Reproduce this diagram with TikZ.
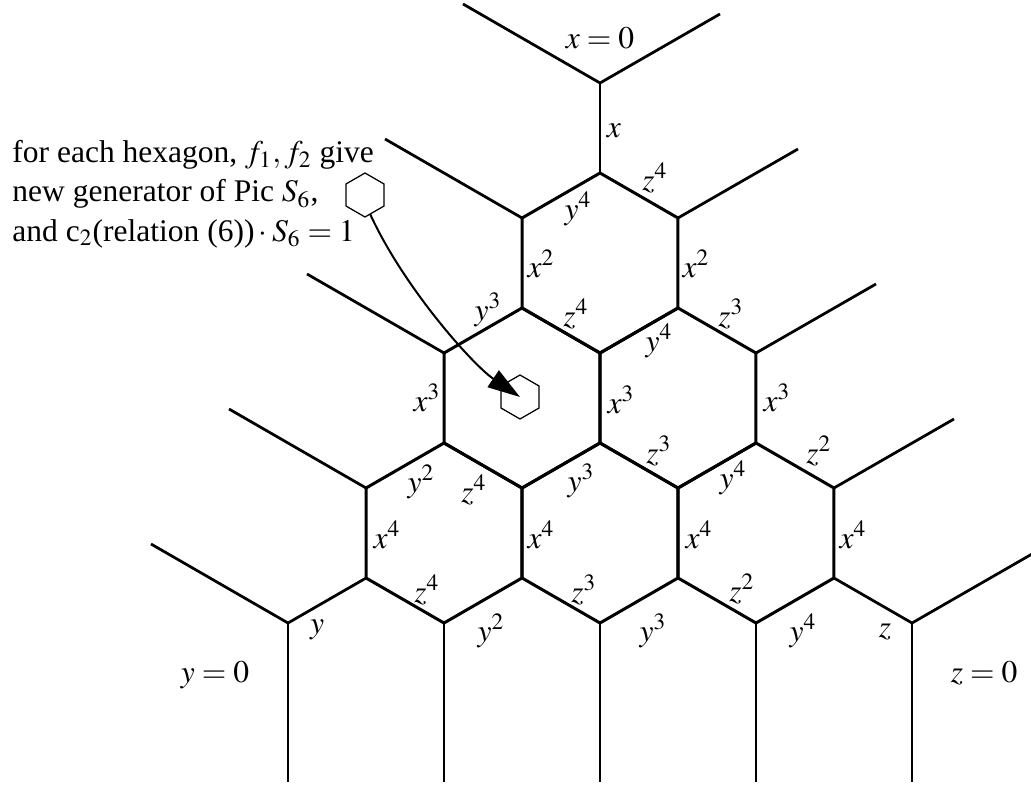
\documentclass[tikz,border=0pt]{standalone}
\usepackage{mathptmx}
\usepackage{fontspec}
\setmainfont{Liberation Serif}
\usetikzlibrary{shapes.geometric,arrows.meta}

\tikzset{
  cell/.style={regular polygon, regular polygon sides=6, shape border rotate=30,
    minimum size=72pt, inner sep=0pt, outer sep=0pt, draw, line width=1.2pt},
  smallhex/.style={regular polygon, regular polygon sides=6, shape border rotate=30,
    minimum size=17.6pt, inner sep=0pt, outer sep=0pt, draw, line width=0.5pt},
  leg/.style={line width=1.1pt},
  pointer/.style={line width=0.8pt, -{Triangle[length=13pt,width=8pt]}},
  lbl/.style={inner sep=0pt}
}

\begin{document}
\begin{tikzpicture}[x=0.4pt, y=-0.4pt, font=\fontsize{12.6}{15.6}\selectfont]
      \useasboundingbox (0,0) rectangle (1031,785);

      % the six hexagons
      \node[cell] (H1) at (600,263) {};
      \node[cell] (H2) at (522,398) {};
      \node[cell] (H3) at (678,398) {};
      \node[cell] (H4) at (444,533) {};
      \node[cell] (H5) at (600,533) {};
      \node[cell] (H6) at (756,533) {};

      % junctions and free ends
      \coordinate (xj) at (600,83);
      \coordinate (yj) at (288,623);
      \coordinate (zj) at (912,623);
      \coordinate (xl) at (463,4);
      \coordinate (xr) at (720,14);
      \coordinate (l1) at (385,139);
      \coordinate (l2) at (307,274);
      \coordinate (l3) at (229,409);
      \coordinate (l4) at (151,544);
      \coordinate (r1) at (798,149);
      \coordinate (r2) at (876,284);
      \coordinate (r3) at (954,419);
      \coordinate (r4) at (1032,554);
      \coordinate (d1) at (288,782);
      \coordinate (d2) at (444,782);
      \coordinate (d3) at (600,782);
      \coordinate (d4) at (756,782);
      \coordinate (d5) at (912,782);

      \draw[leg] (xl) -- (xj) -- (xr);
      \draw[leg] (xj) -- (H1.90);
      \draw[leg] (H1.150) -- (l1);
      \draw[leg] (H2.150) -- (l2);
      \draw[leg] (H4.150) -- (l3);
      \draw[leg] (H1.30) -- (r1);
      \draw[leg] (H3.30) -- (r2);
      \draw[leg] (H6.30) -- (r3);
      \draw[leg] (l4) -- (yj) -- (H4.-150);
      \draw[leg] (r4) -- (zj) -- (H6.-30);
      \draw[leg] (yj) -- (d1);
      \draw[leg] (H4.-90) -- (d2);
      \draw[leg] (H5.-90) -- (d3);
      \draw[leg] (H6.-90) -- (d4);
      \draw[leg] (zj) -- (d5);

      % edge labels
      \node[lbl] (lx0) at (600,38) {$x=0$};
      \node[lbl] (ly0) at (215,675) {$y=0$};
      \node[lbl] (lz0) at (984,673) {$z=0$};
      \node[lbl] (lx) at (614,131) {$x$};
      \node[lbl] (lza) at (655,178) {$z^4$};
      \node[lbl] (lya) at (578,209) {$y^4$};
      \node[lbl] (lxa) at (541,264) {$x^2$};
      \node[lbl] (lxb) at (696,264) {$x^2$};
      \node[lbl] (lyb) at (488,310) {$y^3$};
      \node[lbl] (lzb) at (576,314) {$z^4$};
      \node[lbl] (lyc) at (659,341) {$y^4$};
      \node[lbl] (lzc) at (731,314) {$z^3$};
      \node[lbl] (lxc) at (427,398) {$x^3$};
      \node[lbl] (lxd) at (621,400) {$x^3$};
      \node[lbl] (lxe) at (777,398) {$x^3$};
      \node[lbl] (lyd) at (421,482) {$y^2$};
      \node[lbl] (lzd) at (474,490) {$z^4$};
      \node[lbl] (lye) at (581,481) {$y^3$};
      \node[lbl] (lze) at (659,451) {$z^3$};
      \node[lbl] (lyf) at (733,478) {$y^4$};
      \node[lbl] (lzf) at (819,451) {$z^2$};
      \node[lbl] (lxf) at (387,535) {$x^4$};
      \node[lbl] (lxg) at (541,535) {$x^4$};
      \node[lbl] (lxh) at (699,535) {$x^4$};
      \node[lbl] (lxi) at (853,535) {$x^4$};
      \node[lbl] (lzg) at (427,590) {$z^4$};
      \node[lbl] (lzh) at (584,590) {$z^3$};
      \node[lbl] (lzi) at (742,589) {$z^2$};
      \node[lbl] (lyg) at (317,630) {$y$};
      \node[lbl] (lyh) at (491,631) {$y^2$};
      \node[lbl] (lyi) at (653,631) {$y^3$};
      \node[lbl] (lyj) at (803,631) {$y^4$};
      \node[lbl] (lz) at (885,632) {$z$};

      % note and pointer
      \node[anchor=base west, inner sep=0pt] (noteA) at (12,163) {for each hexagon, $f_1, f_2$ give};
      \node[anchor=base west, inner sep=0pt] (noteB) at (12,202) {new generator of Pic $S_6$,};
      \node[anchor=base west, inner sep=0pt] (noteC) at (12,241) {and c$_2$(relation (6))${}\cdot S_6 = 1$};
      \node[smallhex] (hexA) at (365,195) {};
      \node[smallhex] (hexB) at (520,397) {};
      \draw[pointer] (hexA.-75) .. controls (404,288) and (473,365) .. (hexB.center);
    \end{tikzpicture}
\end{document}
